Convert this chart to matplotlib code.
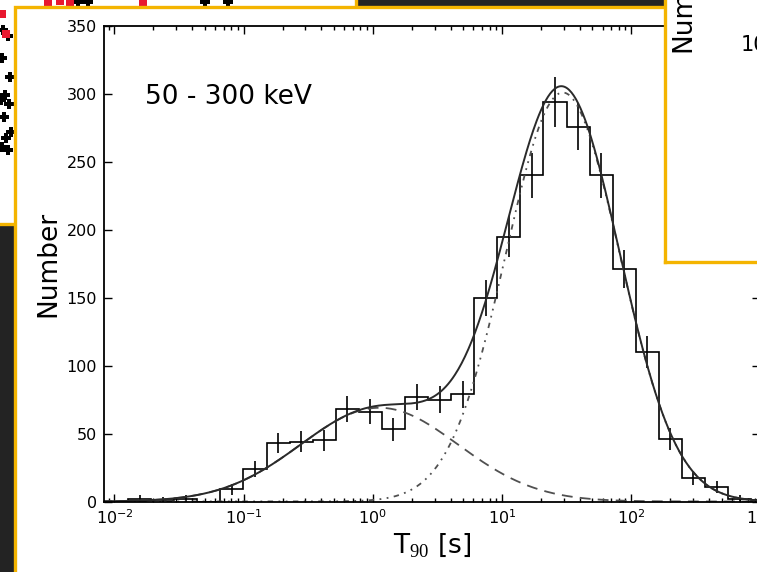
import numpy as np
import matplotlib
matplotlib.use("Agg")
import matplotlib.pyplot as plt
from matplotlib.patches import Rectangle
from matplotlib.ticker import LogLocator, MultipleLocator

plt.rcParams['font.family'] = ['DejaVu Sans']
plt.rcParams['mathtext.fontset'] = 'custom'
plt.rcParams['mathtext.rm'] = 'Liberation Serif'
plt.rcParams['axes.unicode_minus'] = False

# T90 histogram, 50-300 keV band: log10 bin edges and counts per bin
log_edges = np.linspace(-2.073, 3.106, 30)
counts = np.array([0, 2, 1, 2, 0, 9, 24, 43, 44, 45, 68, 66, 53, 77, 75, 79,
                   150, 195, 240, 294, 276, 240, 171, 110, 46, 17, 11, 2, 1])

# two log-normal components of the fit: amplitude, log10 mean, log10 sigma
short_amp, short_mu, short_sigma = 69.0, 0.05, 0.61
long_amp, long_mu, long_sigma = 301.0, 1.47, 0.44

band_label = '50 - 300 keV'

# markers of the neighbouring scatter panel (pixel units of that panel)
scatter_black_x = [3, 8, 2, 10, 5, 1, 9, 4, 11, 6, 2, 8, 78, 88, 205, 228]
scatter_black_y = [30, 36, 58, 77, 95, 100, 104, 117, 132, 138, 147, 150, 2, 2, 2, 2]
scatter_red_x = [2, 6, 48, 60, 70, 143]
scatter_red_y = [14, 34, 2, 1, 2, 2]

W, H = 757, 572
yellow = '#f4b400'
dark = '#232323'

fig = plt.figure(figsize=(W / 100, H / 100), dpi=100)
fig.patch.set_facecolor(dark)


def fx(px):
    return px / W


def fy(py):
    return 1 - py / H


# scatter panel in the upper left, mostly hidden
ax_tl = fig.add_axes([fx(-40), fy(223.5), fx(356 + 40), fy(-40) - fy(223.5)], zorder=-3)
ax_tl.set_facecolor('white')
ax_tl.set_xlim(-40, 356)
ax_tl.set_ylim(223.5, -40)
ax_tl.set_xticks([])
ax_tl.set_yticks([])
for s in ax_tl.spines.values():
    s.set_color(yellow)
    s.set_linewidth(2.4)
ax_tl.scatter(scatter_black_x, scatter_black_y, marker='P', s=45, color='black', lw=0)
ax_tl.scatter(scatter_red_x, scatter_red_y, marker='s', s=30, color='#e8182f', lw=0)

# white card behind the main plot
card = Rectangle((fx(14.5), fy(900)), fx(1000), fy(6.5) - fy(900),
                 transform=fig.transFigure, facecolor='white', edgecolor=yellow,
                 lw=2.4, zorder=-2)
fig.add_artist(card)

# main histogram axes
ax = fig.add_axes([fx(104), fy(501.5), fx(760.5 - 104), fy(26) - fy(501.5)], zorder=0)
ax.set_facecolor('none')

edges = 10 ** log_edges
centers = 10 ** (0.5 * (log_edges[:-1] + log_edges[1:]))
ax.stairs(counts, edges, color='black', lw=1.2)

has = counts > 0
err = 1 + np.sqrt(counts + 0.75)
ax.errorbar(centers[has], counts[has], yerr=err[has], fmt='none',
            ecolor='black', elinewidth=1.2, capsize=0)

lg = np.linspace(-2.1, 3.1, 600)
t = 10 ** lg
short = short_amp * np.exp(-(lg - short_mu) ** 2 / (2 * short_sigma ** 2))
long_ = long_amp * np.exp(-(lg - long_mu) ** 2 / (2 * long_sigma ** 2))
ax.plot(t, short, color='#505050', lw=1.3, dashes=(6, 4))
ax.plot(t, long_, color='#505050', lw=1.3, dashes=(1, 3, 1, 3, 3, 3))
ax.plot(t, short + long_, color='#2a2a2a', lw=1.4)

ax.set_xscale('log')
ax.set_xlim(10 ** -2.081, 10 ** 3.0)
ax.set_ylim(0, 350)
ax.yaxis.set_major_locator(MultipleLocator(50))
ax.xaxis.set_major_locator(LogLocator(base=10, numticks=10))
ax.xaxis.set_minor_locator(LogLocator(base=10, subs=np.arange(2, 10), numticks=20))
ax.tick_params(which='both', direction='in', top=True, right=True, width=1,
               labelsize=11.5, colors='black')
ax.tick_params(which='major', length=6, pad=5)
ax.tick_params(which='minor', length=3)
for s in ax.spines.values():
    s.set_linewidth(1.3)

ax.set_xlabel('T$_{90}$ [s]', fontsize=19, labelpad=3)
ax.set_ylabel('Number', fontsize=19, labelpad=4)
ax.text(0.0625, 0.836, band_label, transform=ax.transAxes, fontsize=19,
        va='baseline', ha='left')

# panel overlapping on the right
ax_r = fig.add_axes([fx(665), fy(261.5), fx(300), fy(-60) - fy(261.5)], zorder=2)
ax_r.set_facecolor('white')
ax_r.set_xlim(665, 965)
ax_r.set_ylim(261.5, -60)
ax_r.set_xticks([])
ax_r.set_yticks([])
for s in ax_r.spines.values():
    s.set_color(yellow)
    s.set_linewidth(2.4)
ax_r.text(683, 52, 'Number', rotation=90, fontsize=19, ha='center', va='bottom')
ax_r.text(741, 45, '10', fontsize=15, ha='left', va='center')

fig.savefig('out.png', dpi=100, facecolor=fig.get_facecolor())
